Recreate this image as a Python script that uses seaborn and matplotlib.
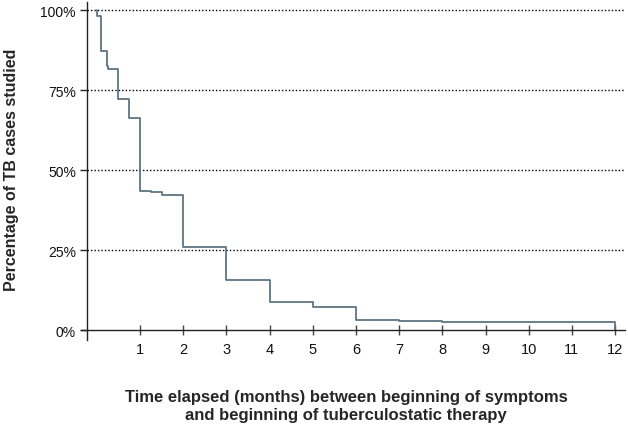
import pandas as pd
import seaborn as sns
import matplotlib.pyplot as plt

# survival-type step data (months, % of cases)
months = [0.01, 0.01, 0.09, 0.24, 0.26, 0.5, 0.75, 1.0, 1.25, 1.5, 2.0, 3.0, 4.0, 5.0, 6.0, 7.0, 8.0, 12.0]
pct = [100.0, 98.1, 87.2, 82.5, 81.6, 72.2, 66.2, 43.4, 43.0, 42.2, 26.0, 15.5, 8.9, 7.2, 3.2, 2.8, 2.4, 0.0]
xticks = list(range(1, 13))
yticks = [0, 25, 50, 75, 100]
ytick_labels = ['0%', '25%', '50%', '75%', '100%']

df = pd.DataFrame({'month': months, 'pct': pct})

sns.set_style('white')
plt.rcParams['font.family'] = ['Liberation Sans', 'DejaVu Sans']

fig = plt.figure(figsize=(6.28, 4.31), dpi=100)
ax = fig.add_axes([81 / 628, 90 / 431, (625 - 81) / 628, (341 - 3) / 431])

sns.lineplot(data=df, x='month', y='pct', estimator=None, sort=False,
             drawstyle='steps-post', color='#5e7482', lw=1.3, ax=ax)

x_left = -0.366
x_axis = -0.227
ax.set_xlim(x_left, 12.23)
ax.set_ylim(-3.1, 102.5)

for y in [25, 50, 75, 100]:
    ax.axhline(y, color='black', ls=(0, (1, 1.5)), lw=1, xmin=(x_axis - x_left) / (12.23 - x_left), zorder=0)

for s in ['top', 'right']:
    ax.spines[s].set_visible(False)
ax.spines['left'].set_position(('data', x_axis))
ax.spines['bottom'].set_position(('data', 0))
for s in ['left', 'bottom']:
    ax.spines[s].set_color('#222222')
    ax.spines[s].set_linewidth(1)

ax.set_xticks(xticks)
ax.set_xticklabels([str(t) for t in xticks])
ax.set_yticks(yticks)
ax.set_yticklabels(ytick_labels)
ax.tick_params(axis='x', direction='inout', length=7, width=1, color='#444444',
               labelsize=10.5, pad=5, bottom=True, labelcolor='#111111')
ax.tick_params(axis='y', direction='out', length=5, width=1, color='#222222',
               labelsize=10, pad=3, left=True, labelcolor='#111111')
ax.set_xlabel('')
ax.set_ylabel('')

fig.text(12 / 628, 1 - 170 / 431, 'Percentage of TB cases studied', rotation=90,
         ha='center', va='center', fontsize=11.5, fontweight='bold')
fig.text(346 / 628, 1 - 407 / 431,
         'Time elapsed (months) between beginning of symptoms\nand beginning of tuberculostatic therapy',
         ha='center', va='center', fontsize=12, fontweight='bold', linespacing=1.25)

plt.savefig('out.png', dpi=100)
